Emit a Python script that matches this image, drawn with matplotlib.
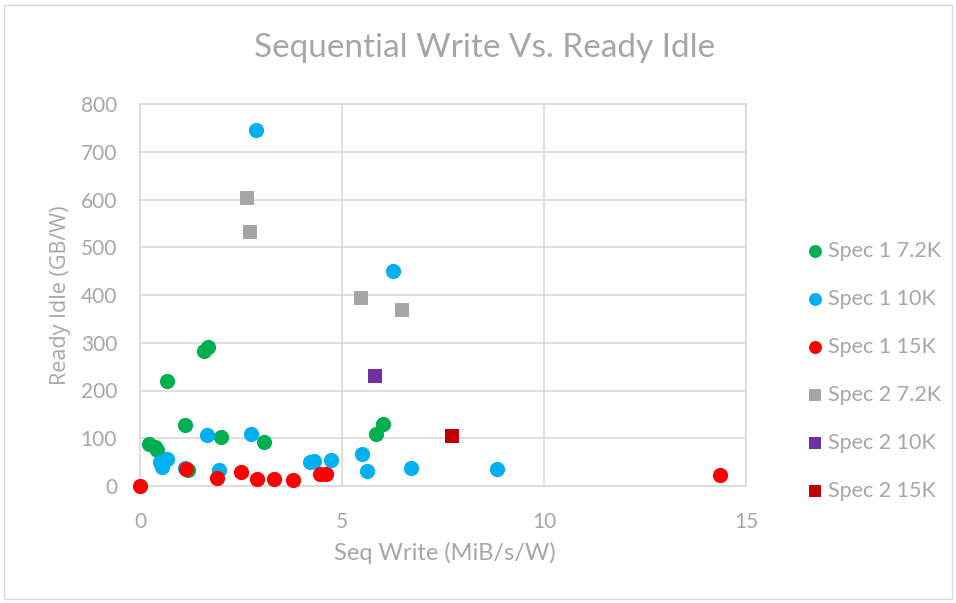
import matplotlib
matplotlib.use("Agg")
import matplotlib.pyplot as plt
from matplotlib.patches import Rectangle

plt.rcParams['font.family'] = ['Lato', 'DejaVu Sans']

s1_72k_x = [0.22, 0.37, 0.41, 0.67, 1.58, 1.68, 1.11, 2.0, 3.07, 5.84, 6.01, 1.2]
s1_72k_y = [88, 81, 75, 220, 283, 291, 128, 103, 92, 109, 130, 33]

s1_10k_x = [2.87, 6.26, 0.5, 0.66, 0.54, 1.11, 1.67, 1.96, 2.75, 4.2, 4.3, 4.72, 5.5, 5.61, 6.72, 8.84]
s1_10k_y = [745, 450, 51, 56, 40, 37, 107, 33, 109, 51, 53, 54, 66, 31, 38, 35]

s1_15k_x = [0.0, 1.13, 1.9, 2.5, 2.9, 3.32, 3.79, 4.46, 4.6, 14.36]
s1_15k_y = [0, 36, 16, 29, 14, 15, 13, 25, 25, 23]

s2_72k_x = [2.65, 2.72, 5.47, 6.49]
s2_72k_y = [603, 532, 394, 369]

s2_10k_x = [5.82]
s2_10k_y = [230]

s2_15k_x = [7.72]
s2_15k_y = [105]

x_ticks = [0, 5, 10, 15]
y_ticks = [0, 100, 200, 300, 400, 500, 600, 700, 800]

W, H = 956, 603
fig = plt.figure(figsize=(W / 100, H / 100), dpi=100)
fig.patch.set_facecolor('white')
fig.add_artist(Rectangle((4 / W, 4 / H), 948 / W, 594 / H, transform=fig.transFigure,
                         fill=False, edgecolor='#d9d9d9', linewidth=1))

ax = fig.add_axes([140 / W, 1 - 486 / H, (746 - 140) / W, (486 - 104) / H])

circ = 120
sq = 105
series = [
    (s1_72k_x, s1_72k_y, '#00b050', 'o', circ, 'Spec 1 7.2K'),
    (s1_10k_x, s1_10k_y, '#00b0f0', 'o', circ, 'Spec 1 10K'),
    (s1_15k_x, s1_15k_y, '#ff0000', 'o', circ, 'Spec 1 15K'),
    (s2_72k_x, s2_72k_y, '#a5a5a5', 's', sq, 'Spec 2 7.2K'),
    (s2_10k_x, s2_10k_y, '#7030a0', 's', sq, 'Spec 2 10K'),
    (s2_15k_x, s2_15k_y, '#c00000', 's', sq, 'Spec 2 15K'),
]
for xs, ys, col, mk, size, lab in series:
    ax.scatter(xs, ys, s=size, c=col, marker=mk, label=lab, zorder=3, linewidths=0, clip_on=False)

ax.set_xlim(0, 15)
ax.set_ylim(0, 800)
ax.set_xticks(x_ticks)
ax.set_yticks(y_ticks)
ax.grid(True, color='#d9d9d9', linewidth=1.2)
ax.set_axisbelow(True)
for sp in ax.spines.values():
    sp.set_color('#d9d9d9')
    sp.set_linewidth(1.2)
ax.tick_params(axis='y', length=0, labelsize=15, labelcolor='#a6a6a6', pad=16.5)
ax.tick_params(axis='x', length=0, labelsize=15, labelcolor='#a6a6a6', pad=18.5)

ax.set_xlabel('Seq Write (MiB/s/W)', fontsize=17, color='#a6a6a6', va='center')
ax.xaxis.set_label_coords((445 - 140) / 606, (486 - 553) / 382)
ax.set_ylabel('Ready Idle (GB/W)', fontsize=15.5, color='#a6a6a6', va='center',
              family=['Open Sans', 'DejaVu Sans'])
ax.yaxis.set_label_coords((60 - 140) / 606, 0.5)

fig.text(485 / W, 1 - 48 / H, 'Sequential Write Vs. Ready Idle', fontsize=24,
         color='#a6a6a6', ha='center', va='center')

leg = ax.legend(loc='upper left', bbox_to_anchor=(796 / W, 1 - 232 / H), bbox_transform=fig.transFigure,
                frameon=False, fontsize=15.5, labelspacing=1.3, handletextpad=0.1,
                borderaxespad=0, handlelength=1.0, markerscale=0.85)
for t in leg.get_texts():
    t.set_color('#a6a6a6')

fig.savefig('out.png', dpi=100, facecolor='white')
